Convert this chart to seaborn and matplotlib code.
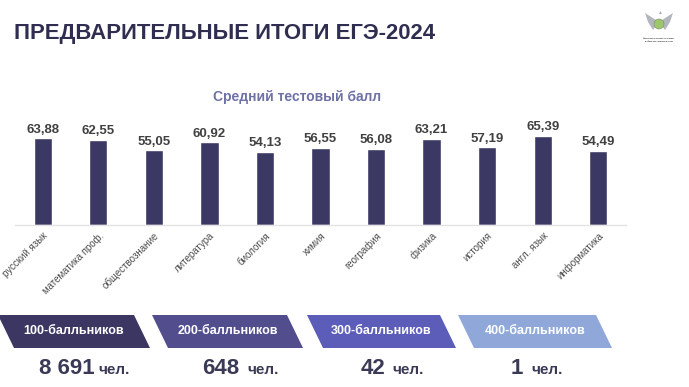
import matplotlib
matplotlib.use("Agg")
import matplotlib.pyplot as plt
import seaborn as sns
import pandas as pd
from matplotlib.patches import Polygon, Circle

subjects = ["русский язык", "математика проф.", "обществознание", "литература",
            "биология", "химия", "география", "физика", "история",
            "англ. язык", "информатика"]
scores = [63.88, 62.55, 55.05, 60.92, 54.13, 56.55, 56.08, 63.21, 57.19, 65.39, 54.49]

banner_labels = ["100-балльников", "200-балльников", "300-балльников", "400-балльников"]
banner_counts = ["8 691", "648", "42", "1"]
banner_colors = ["#3b3762", "#524d8d", "#5b5db8", "#8fa8d9"]

title = "ПРЕДВАРИТЕЛЬНЫЕ ИТОГИ ЕГЭ-2024"
subtitle = "Средний тестовый балл"

sns.set_theme(style="white")
plt.rcParams["font.family"] = ["Liberation Sans", "DejaVu Sans"]

W, H = 689, 387
fig = plt.figure(figsize=(W / 100, H / 100), dpi=100)
fig.patch.set_facecolor("white")

# overlay axes in pixel coordinates for decorations
ov = fig.add_axes([0, 0, 1, 1], zorder=0)
ov.set_xlim(0, W)
ov.set_ylim(H, 0)
ov.axis("off")

ov.text(14, 34, title, fontsize=15.9, fontweight="bold", color="#2f2d50",
        ha="left", va="center")
ov.text(297, 97, subtitle, fontsize=10, fontweight="bold", color="#6e71a6",
        ha="center", va="center")

# logo (simplified)
ov.add_patch(Polygon([(659, 22), (645, 13), (648, 22), (653, 30)], closed=True,
                     facecolor="#b3b6bc", edgecolor="none"))
ov.add_patch(Polygon([(659, 22), (673, 13), (670, 22), (665, 30)], closed=True,
                     facecolor="#b3b6bc", edgecolor="none"))
ov.add_patch(Circle((659, 24), 5, facecolor="#9cc76a", edgecolor="#7b8a6c", lw=0.4))
ov.text(659, 13, "▲", fontsize=3.5, color="#a5a8ae", ha="center", va="center")
ov.text(659, 38.5, "ФЕДЕРАЛЬНАЯ СЛУЖБА ПО НАДЗОРУ", fontsize=1.15, fontweight="bold",
        color="#333333", ha="center", va="center")
ov.text(659, 41.5, "В СФЕРЕ ОБРАЗОВАНИЯ И НАУКИ", fontsize=1.15, fontweight="bold",
        color="#333333", ha="center", va="center")

# banners
tops = [(-2, 134), (152, 287), (307, 440), (458, 596)]
slant = 16
y0, y1 = 315, 348
num_right = [95, 239, 385, 523]
unit_left = [98, 247, 392, 531]
for (xl, xr), lab, cnt, col, nr, ul in zip(tops, banner_labels, banner_counts,
                                           banner_colors, num_right, unit_left):
    ov.add_patch(Polygon([(xl, y0), (xr, y0), (xr + slant, y1), (xl + slant, y1)],
                         closed=True, facecolor=col, edgecolor="none"))
    cx = (xl + xr + slant) / 2
    ov.text(cx, (y0 + y1) / 2, lab, fontsize=9, fontweight="bold", color="white",
            ha="center", va="center")
    ov.text(nr, 374, cnt, fontsize=16, fontweight="bold", color="#3a3a56",
            ha="right", va="baseline")
    ov.text(ul, 374, "чел.", fontsize=11, fontweight="bold", color="#3a3a56",
            ha="left", va="baseline")

# bar chart
left, right, base, top = 15, 626, 225, 110
ax = fig.add_axes([left / W, (H - base) / H, (right - left) / W, (base - top) / H], zorder=1)
ax.set_facecolor("none")
df = pd.DataFrame({"subject": subjects, "score": scores})
sns.barplot(data=df, x="subject", y="score", color="#3b3963", saturation=1,
            width=0.33, ax=ax)
ax.set_xlim(-0.5, len(subjects) - 0.5)
ax.set_ylim(0, (base - top) / 1.357)
ax.bar_label(ax.containers[0], labels=[f"{v:.2f}".replace(".", ",") for v in scores],
             padding=2, fontsize=9.5, fontweight="bold", color="#404040")
for s in ["top", "left", "right"]:
    ax.spines[s].set_visible(False)
ax.spines["bottom"].set_color("#e3e3e6")
ax.spines["bottom"].set_linewidth(1)
ax.set_yticks([])
ax.set_xlabel("")
ax.set_ylabel("")
ax.tick_params(axis="x", length=0, pad=4)
ax.set_xticks(range(len(subjects)))
ax.set_xticklabels(subjects, rotation=45, ha="right", rotation_mode="anchor",
                   fontsize=7, color="#4d4d4d")

fig.savefig("out.png", dpi=100, facecolor="white")
